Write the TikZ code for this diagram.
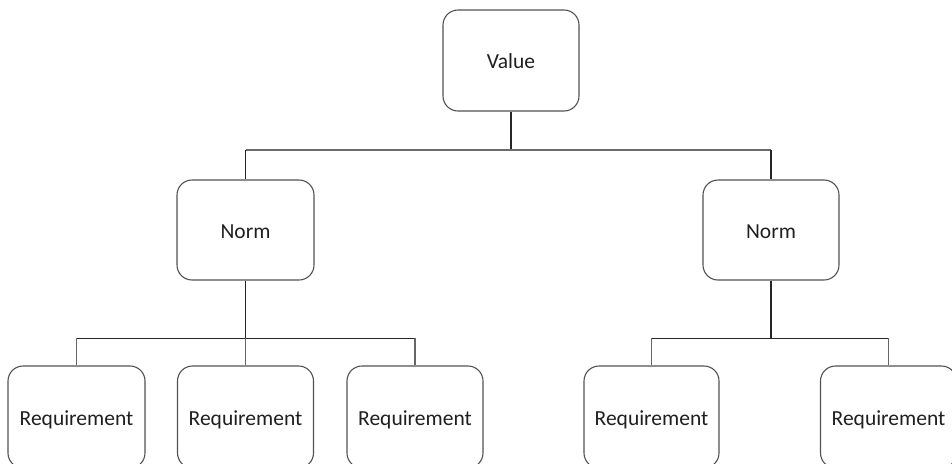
\documentclass[tikz,border=0pt]{standalone}
\usepackage{fontspec}
\setmainfont{Carlito}
\begin{document}
\begin{tikzpicture}[x=1pt,y=-1pt,
  box/.style={draw=black!68, line width=1.1pt, rounded corners=15pt,
    inner sep=0pt, text=black!88, text height=20pt, text depth=4pt,
    font=\fontsize{21.5}{26}\selectfont},
  stem/.style={draw=black!85, line width=1.6pt},
  bar/.style={draw=black!58, line width=1.4pt},
  lowbar/.style={draw=black!85, line width=1pt},
  drop/.style={draw=black!60, line width=1.3pt}]
\useasboundingbox (0,0) rectangle (952,463);

% boxes
\node[box, minimum width=136pt, minimum height=101pt] (value) at (511,60.5) {Value};
\node[box, minimum width=137pt, minimum height=100pt] (normL) at (245.5,230) {Norm};
\node[box, minimum width=136pt, minimum height=100pt] (normR) at (771,230) {Norm};
\node[box, minimum width=137pt, minimum height=102pt] (req1) at (76.5,417) {Requirement};
\node[box, minimum width=136pt, minimum height=102pt] (req2) at (245.5,417) {Requirement};
\node[box, minimum width=136pt, minimum height=102pt] (req3) at (415,417) {Requirement};
\node[box, minimum width=135pt, minimum height=102pt] (req4) at (651.5,417) {Requirement};
\node[box, minimum width=136pt, minimum height=102pt] (req5) at (888.5,417) {Requirement};

% levels of the horizontal bars
\coordinate (topbar) at (0,150);
\coordinate (lowbar) at (0,338);

% value to norms
\draw[stem] (value.south) -- (value.south |- topbar);
\draw[bar] (normL.north |- topbar) -- (normR.north |- topbar);
\draw[stem] (normL.north |- topbar) -- (normL.north);
\draw[stem] (normR.north |- topbar) -- (normR.north);

% left norm to its requirements
\draw[stem] (normL.south) -- (normL.south |- lowbar);
\draw[lowbar] (req1.north |- lowbar) -- (req3.north |- lowbar);
\foreach \r in {req1,req2,req3}
  \draw[drop] (\r.north |- lowbar) -- (\r.north);

% right norm to its requirements
\draw[stem] (normR.south) -- (normR.south |- lowbar);
\draw[lowbar] (req4.north |- lowbar) -- (req5.north |- lowbar);
\foreach \r in {req4,req5}
  \draw[drop] (\r.north |- lowbar) -- (\r.north);
\end{tikzpicture}
\end{document}
